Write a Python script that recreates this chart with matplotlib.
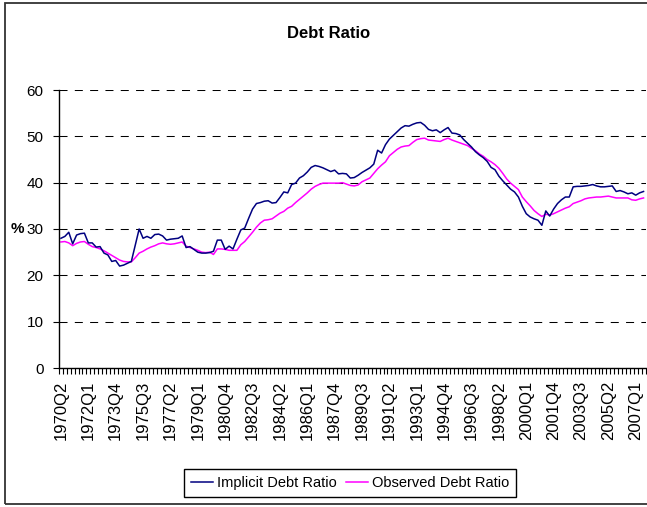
import matplotlib
matplotlib.use("Agg")
import matplotlib.pyplot as plt
from matplotlib.patches import Rectangle
from matplotlib.ticker import FixedLocator, MultipleLocator

# ── Data (quarterly, 1970Q2 .. 2007Q4) ────────────────────────────────────────
implicit = [
    28.0, 28.4, 29.3, 26.8, 28.7, 29.0, 29.1, 27.0, 27.0, 26.1,
    26.2, 24.8, 24.4, 23.0, 23.2, 22.0, 22.2, 22.6, 23.0, 26.5,
    30.0, 28.0, 28.4, 28.0, 28.8, 28.9, 28.5, 27.6, 27.8, 27.9,
    28.0, 28.5, 26.0, 26.2, 25.6, 25.0, 24.8, 24.8, 24.9, 25.2,
    27.6, 27.6, 25.6, 26.3, 25.7, 27.8, 29.8, 30.2, 32.3, 34.3,
    35.5, 35.7, 36.0, 36.1, 35.6, 35.7, 36.8, 38.0, 37.8, 39.6,
    39.9, 41.0, 41.5, 42.3, 43.3, 43.7, 43.5, 43.2, 42.8, 42.4,
    42.7, 41.9, 42.0, 41.9, 41.0, 41.1, 41.6, 42.2, 42.7, 43.2,
    44.0, 47.0, 46.4, 48.2, 49.4, 50.2, 51.0, 51.8, 52.3, 52.2,
    52.6, 52.9, 53.0, 52.4, 51.5, 51.2, 51.4, 50.8, 51.4, 51.9,
    50.7, 50.6, 50.3, 49.3, 48.5, 47.7, 46.7, 46.0, 45.4, 44.6,
    43.3, 42.8, 41.4, 40.4, 39.5, 38.6, 38.0, 36.9, 34.9, 33.3,
    32.6, 32.2, 31.9, 30.8, 33.9, 32.8, 34.3, 35.5, 36.3, 36.9,
    36.9, 39.1, 39.2, 39.2, 39.3, 39.4, 39.6, 39.3, 39.1, 39.1,
    39.2, 39.3, 38.1, 38.3, 38.0, 37.6, 37.8, 37.3, 37.8, 38.1,
]
observed = [
    27.2, 27.3, 27.0, 26.4, 26.9, 27.2, 27.3, 26.7, 26.2, 26.0,
    25.7, 25.3, 24.8, 24.3, 23.8, 23.3, 23.0, 22.9, 22.9, 23.8,
    24.8, 25.2, 25.7, 26.1, 26.4, 26.8, 27.0, 26.8, 26.7, 26.8,
    27.0, 27.2, 26.3, 26.0, 25.7, 25.4, 25.0, 24.9, 25.0, 24.5,
    25.7, 25.7, 25.6, 25.4, 25.4, 25.4, 26.6, 27.3, 28.3, 29.3,
    30.4, 31.3, 31.9, 32.0, 32.2, 32.8, 33.4, 33.8, 34.5, 34.9,
    35.7, 36.4, 37.1, 37.8, 38.6, 39.2, 39.6, 39.9, 39.9, 39.9,
    39.9, 39.9, 40.0, 39.7, 39.4, 39.3, 39.5, 40.2, 40.6, 41.0,
    42.0, 43.0, 43.8, 44.5, 45.8, 46.5, 47.2, 47.7, 47.9, 48.0,
    48.7, 49.3, 49.5, 49.6, 49.2, 49.1, 49.0, 48.9, 49.3, 49.6,
    49.2, 48.9, 48.6, 48.3, 48.0, 47.4, 46.9, 46.2, 45.7, 45.0,
    44.5, 43.9, 43.1, 42.0, 40.8, 39.9, 39.2, 38.5, 36.9, 35.9,
    35.0, 34.0, 33.3, 32.7, 33.2, 33.0, 33.3, 33.7, 34.1, 34.5,
    34.8, 35.5, 35.8, 36.1, 36.5, 36.7, 36.8, 36.9, 36.9, 37.0,
    37.1, 36.9, 36.7, 36.7, 36.7, 36.7, 36.3, 36.2, 36.5, 36.7,
]
tick_labels = [
    "1970Q2", "1972Q1", "1973Q4", "1975Q3", "1977Q2", "1979Q1", "1980Q4",
    "1982Q3", "1984Q2", "1986Q1", "1987Q4", "1989Q3", "1991Q2", "1993Q1",
    "1994Q4", "1996Q3", "1998Q2", "2000Q1", "2001Q4", "2003Q3", "2005Q2",
    "2007Q1",
]
LABEL_STEP = 7  # one label every 7 quarters

plt.rcParams["font.family"] = ["Liberation Sans", "DejaVu Sans"]

W, H = 647, 507
fig = plt.figure(figsize=(W / 100, H / 100), dpi=100)

# outer chart frame (right side runs off the image)
fig.patches.append(Rectangle((5 / W, 1 - 504 / H), 1.0, (504 - 3) / H,
                             transform=fig.transFigure, fill=False,
                             edgecolor="#333333", lw=1.3))

ax = fig.add_axes([59 / W, 1 - 368 / H, (645.5 - 59) / W, (368 - 90) / H])
x = range(len(implicit))
ax.plot(x, implicit, color="#000080", lw=1.1, label="Implicit Debt Ratio", zorder=3)
ax.plot(x, observed, color="#FF00FF", lw=1.1, label="Observed Debt Ratio", zorder=2)

ax.set_xlim(-0.5, len(implicit) - 0.5)
ax.set_ylim(0, 60)
ax.yaxis.set_major_locator(MultipleLocator(10))
ax.grid(axis="y", color="black", lw=0.75, ls=(0, (7.7, 7.0)))

# category ticks between quarters, labels on every 7th quarter
ax.xaxis.set_minor_locator(FixedLocator([i - 0.5 for i in range(len(implicit) + 1)]))
ax.set_xticks(range(0, len(tick_labels) * LABEL_STEP, LABEL_STEP))
ax.set_xticklabels(tick_labels, rotation=90, fontsize=12)
ax.tick_params(axis="x", which="major", length=0, pad=9)
ax.tick_params(axis="x", which="minor", length=4, width=0.8, direction="out")
ax.tick_params(axis="y", length=4, width=0.8, labelsize=11, pad=7)

for side in ("top", "right"):
    ax.spines[side].set_visible(False)
for side in ("left", "bottom"):
    ax.spines[side].set_linewidth(1.0)

fig.text(329 / W, 1 - 33 / H, "Debt Ratio", ha="center", va="center",
         fontsize=12, fontweight="bold")
fig.text(17 / W, 1 - 229 / H, "%", ha="center", va="center",
         fontsize=11, fontweight="bold")

leg = fig.legend(loc="center", bbox_to_anchor=(350 / W, 1 - 483 / H), ncol=2,
                 fontsize=10.5, frameon=True, fancybox=False, framealpha=1,
                 edgecolor="black", handlelength=1.5, handletextpad=0.3,
                 columnspacing=0.6, borderpad=0.45)
leg.get_frame().set_linewidth(1.0)

fig.savefig("out.png", dpi=100)
